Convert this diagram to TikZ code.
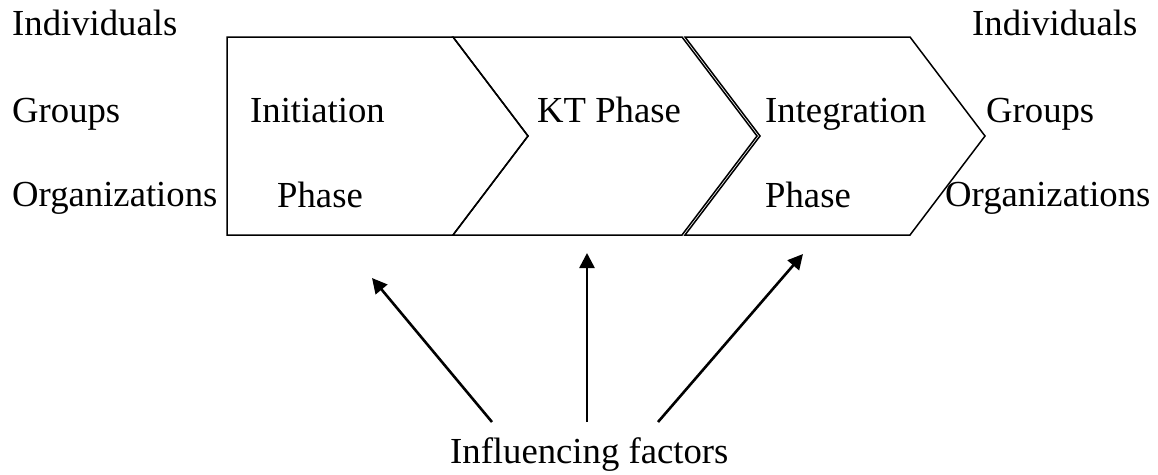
\documentclass[tikz,border=0pt]{standalone}
\usepackage{fontspec}
\setmainfont{Liberation Serif}
\usetikzlibrary{arrows.meta}
\begin{document}
\begin{tikzpicture}[x=1pt,y=-1pt,
  lbl/.style={anchor=base west,inner sep=0pt,font=\fontsize{36.7}{44}\selectfont},
  phasebox/.style={draw=black,line width=1.5pt,line join=miter},
  influence/.style={line width=2.6pt,-{Triangle[length=15pt,width=15pt]}}]
\useasboundingbox (0,0) rectangle (1158,474);

% phase chevrons
\draw[phasebox] (227,37) -- (453,37) -- (528,136) -- (453,235) -- (227,235) -- cycle;
\draw[phasebox] (453,37) -- (682,37) -- (757,136) -- (682,235) -- (453,235) -- (528,136) -- cycle;
\draw[phasebox] (685,37) -- (910,37) -- (985,136) -- (910,235) -- (685,235) -- (760,136) -- cycle;

% phase labels
\node[lbl] (init1) at (250,122) {Initiation};
\node[lbl] (init2) at (277,207) {Phase};
\node[lbl] (kt) at (537,122) {KT Phase};
\node[lbl] (integ1) at (765,122) {Integration};
\node[lbl] (integ2) at (765,207) {Phase};

% actors on the left
\node[lbl] (lind) at (12,35) {Individuals};
\node[lbl] (lgrp) at (12,122) {Groups};
\node[lbl] (lorg) at (12,206) {Organizations};

% actors on the right
\node[lbl] (rind) at (972,35) {Individuals};
\node[lbl] (rgrp) at (986,122) {Groups};
\node[lbl] (rorg) at (945,206) {Organizations};

% influencing factors
\node[lbl] (inf) at (450,463) {Influencing factors};
\coordinate (s1) at (492,422);
\coordinate (s2) at (587,422);
\coordinate (s3) at (658,422);
\coordinate (e1) at (372,278);
\coordinate (e2) at (587,253);
\coordinate (e3) at (803,254);
\draw[influence] (s1) -- (e1);
\draw[influence] (s2) -- (e2);
\draw[influence] (s3) -- (e3);
\end{tikzpicture}
\end{document}
